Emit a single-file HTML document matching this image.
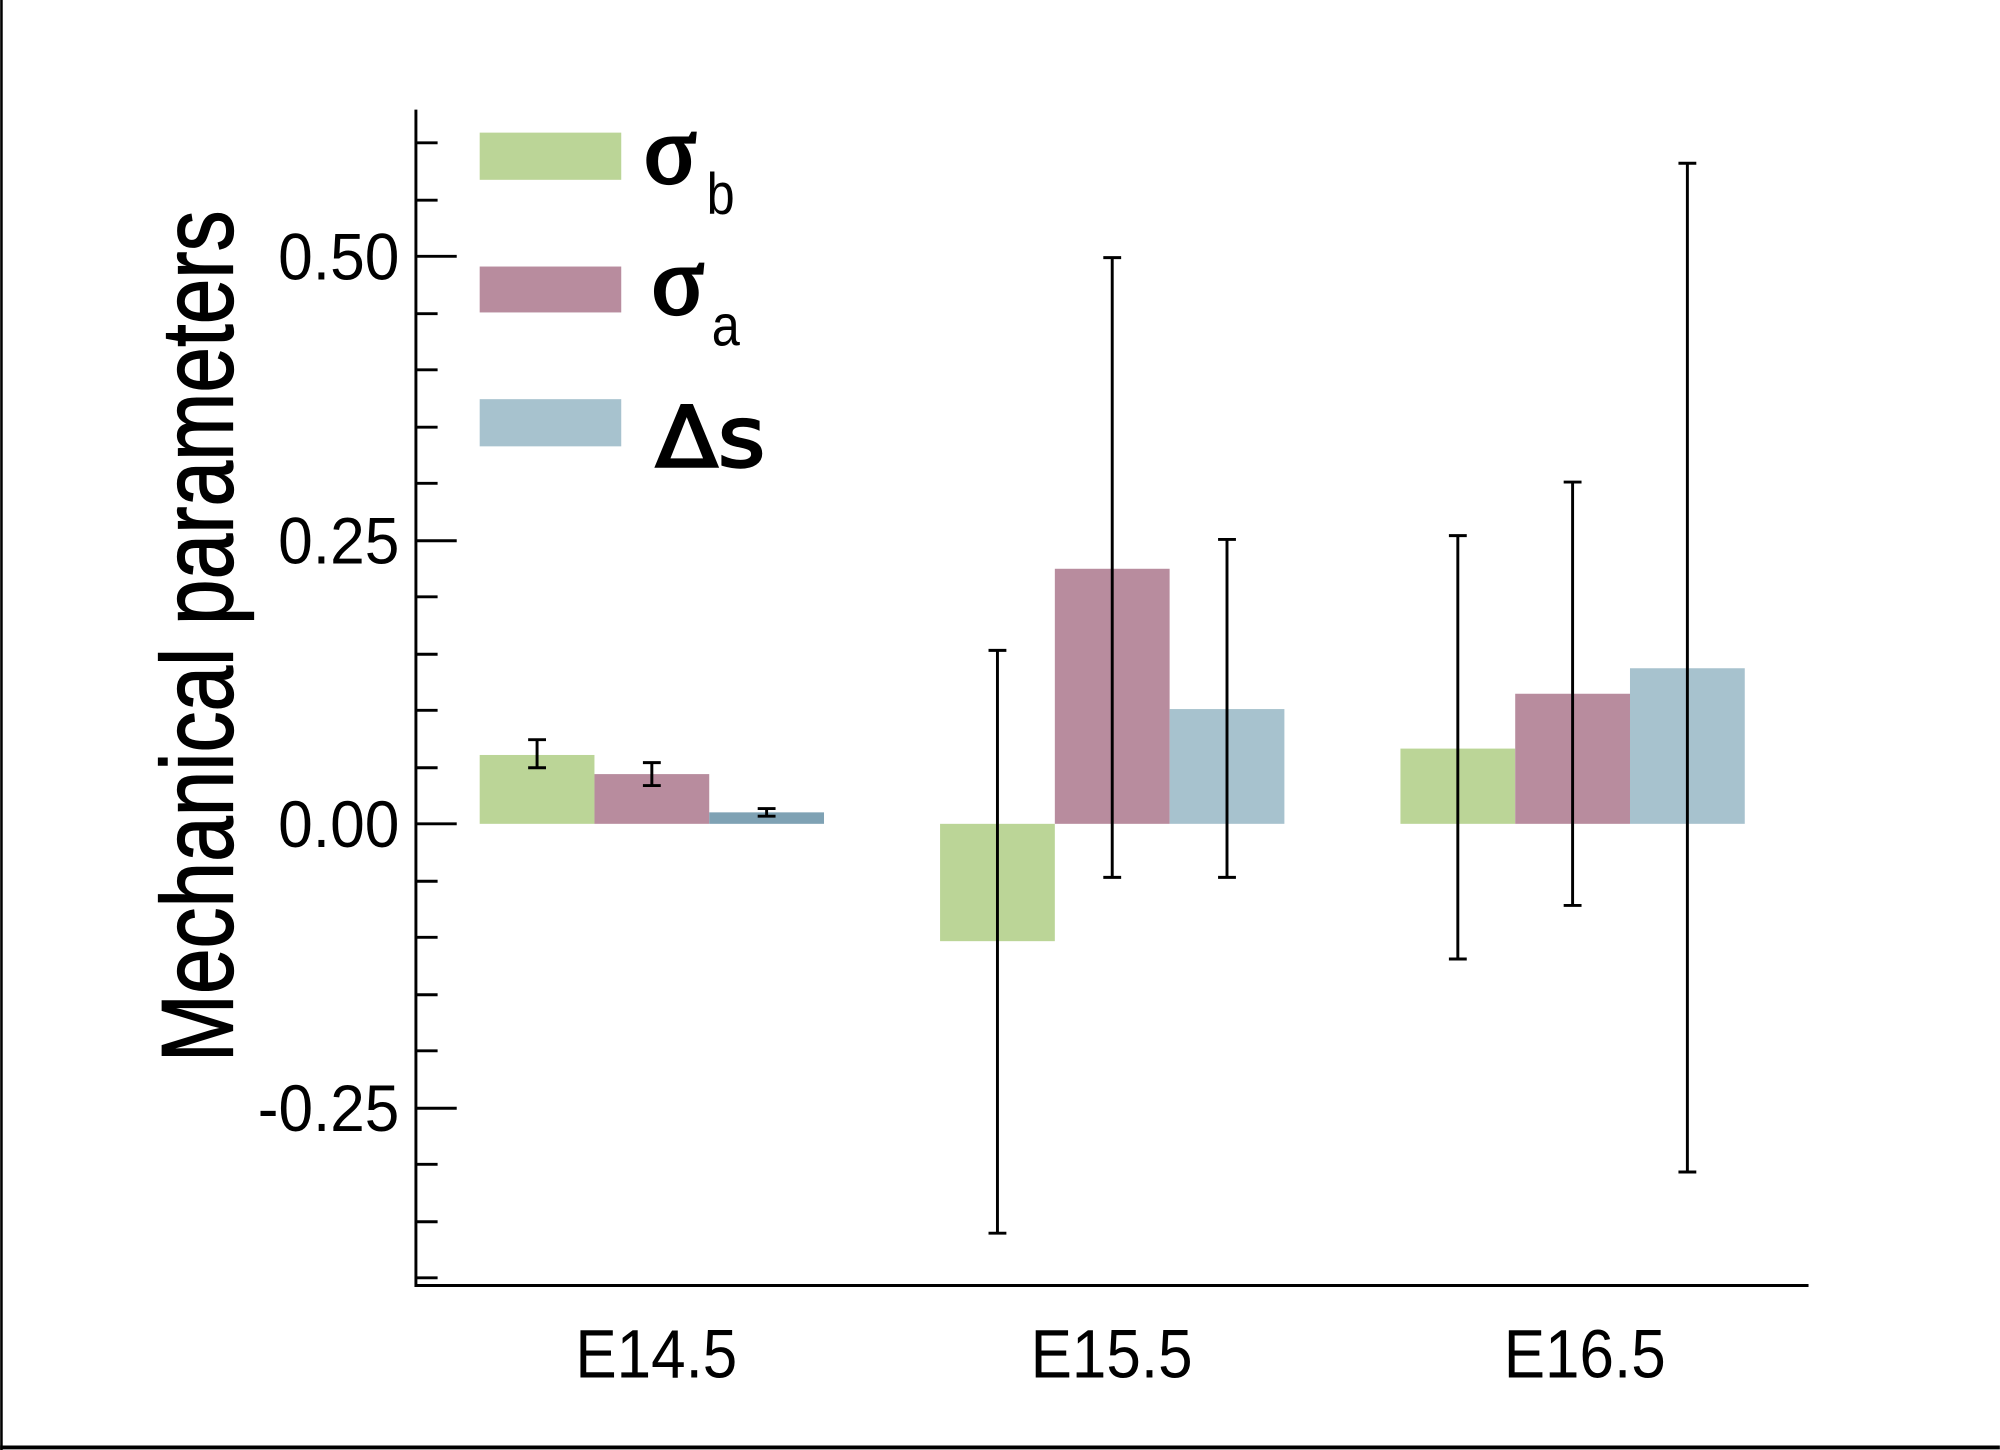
<!DOCTYPE html>
<html><head><style>html,body{margin:0;padding:0;background:#fff}svg{display:block}</style></head><body>
<svg width="2000" height="1450" viewBox="0 0 1568 1137" xmlns="http://www.w3.org/2000/svg">
<rect x="0" y="0" width="1568" height="1137" fill="#fff"/>
<line x1="1" y1="0" x2="1" y2="1137" stroke="#000" stroke-width="2"/>
<line x1="0" y1="1135" x2="1568" y2="1135" stroke="#000" stroke-width="3"/>
<g fill="#bbd597">
<rect x="376" y="592" width="90" height="54"/>
<rect x="737" y="646" width="90" height="92"/>
<rect x="1098" y="587" width="90" height="59"/>
<rect x="376" y="104" width="111" height="37"/>
</g>
<g fill="#b88c9e">
<rect x="466" y="607" width="90" height="39"/>
<rect x="827" y="446" width="90" height="200"/>
<rect x="1188" y="544" width="90" height="102"/>
<rect x="376" y="209" width="111" height="36"/>
</g>
<g fill="#a7c2ce">
<rect x="917" y="556" width="90" height="90"/>
<rect x="1278" y="524" width="90" height="122"/>
<rect x="376" y="313" width="111" height="37"/>
</g>
<rect x="556" y="637" width="90" height="9" fill="#7fa2b4"/>
<g stroke="#000" stroke-width="2.3" fill="none">
<path d="M326 86V1008H1418"/>
<path d="M326 112h17M326 157h17M326 201h32M326 246h17M326 290h17M326 335h17M326 379h17M326 424h32M326 468h17M326 513h17M326 557h17M326 602h17M326 646h32M326 691h17M326 735h17M326 780h17M326 824h17M326 869h32M326 913h17M326 958h17M326 1002h17"/>
<path d="M421 580v22M414 580h14M414 602h14"/>
<path d="M511 598v18M504 598h14M504 616h14"/>
<path d="M601 634v6M594 634h14M594 640h14"/>
<path d="M782 510v457M775 510h14M775 967h14"/>
<path d="M872 202v486M865 202h14M865 688h14"/>
<path d="M962 423v265M955 423h14M955 688h14"/>
<path d="M1143 420v332M1136 420h14M1136 752h14"/>
<path d="M1233 378v332M1226 378h14M1226 710h14"/>
<path d="M1323 128v791M1316 128h14M1316 919h14"/>
</g>
<g font-family="Liberation Sans, sans-serif" font-size="52" text-anchor="end" fill="#000">
<text x="313" y="219" textLength="95" lengthAdjust="spacingAndGlyphs">0.50</text>
<text x="313" y="442" textLength="95" lengthAdjust="spacingAndGlyphs">0.25</text>
<text x="313" y="664" textLength="95" lengthAdjust="spacingAndGlyphs">0.00</text>
<text x="313" y="887" textLength="111" lengthAdjust="spacingAndGlyphs">-0.25</text>
</g>
<g font-family="Liberation Sans, sans-serif" font-size="54" fill="#000">
<text x="451" y="1080" textLength="127" lengthAdjust="spacingAndGlyphs">E14.5</text>
<text x="808" y="1080" textLength="127" lengthAdjust="spacingAndGlyphs">E15.5</text>
<text x="1179" y="1080" textLength="127" lengthAdjust="spacingAndGlyphs">E16.5</text>
</g>
<text transform="translate(182,499) rotate(-90)" font-family="Liberation Sans, sans-serif" font-size="80" text-anchor="middle" textLength="668" lengthAdjust="spacingAndGlyphs" stroke="#000" stroke-width="1">Mechanical parameters</text>
<g font-family="Liberation Serif, serif" font-size="76" fill="#000" stroke="#000" stroke-width="2.5">
<text x="505" y="143">σ</text>
<text x="511" y="246">σ</text>
</g>
<text x="514" y="366" font-family="DejaVu Sans, sans-serif" font-size="66" textLength="86" lengthAdjust="spacingAndGlyphs" stroke="#000" stroke-width="2">Δs</text>
<g font-family="Liberation Sans, sans-serif" font-size="46" fill="#000">
<text x="554" y="168" textLength="22" lengthAdjust="spacingAndGlyphs">b</text>
<text x="558" y="271" textLength="22" lengthAdjust="spacingAndGlyphs">a</text>
</g>
</svg>
</body></html>
